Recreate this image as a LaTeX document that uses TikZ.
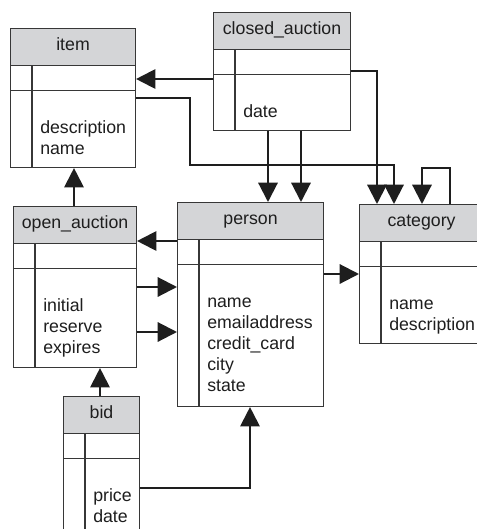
\documentclass[tikz,border=0pt]{standalone}
\usepackage{fontspec}
\setmainfont{Liberation Sans}
\usepackage{xcolor}
\usetikzlibrary{calc,arrows.meta}

\definecolor{headgray}{RGB}{212,213,215}
\definecolor{boxline}{RGB}{55,55,55}
\definecolor{inkgray}{RGB}{30,30,30}

\newcommand{\tblfont}{\fontsize{13.3}{15.8}\selectfont}

\tikzset{
  tblbox/.style={draw=boxline, line width=0.8pt, fill=white, anchor=north west, inner sep=0pt},
  tblhead/.style={draw=boxline, line width=0.8pt, fill=headgray, anchor=north west, inner sep=0pt,
    minimum height=37*0.75pt, text height=0.73em, text depth=0.22em, font=\tblfont, text=inkgray},
  tblline/.style={draw=boxline, line width=0.8pt},
  tblattr/.style={anchor=north west, align=left, inner sep=0pt, font=\tblfont, text=inkgray},
  fk/.style={draw=inkgray, line width=1.6pt, -{Triangle[length=14.5pt,width=14.5pt]}},
}

% table: name, x, y, width, height, title, attributes
\newcommand{\enttable}[7]{%
  \node[tblbox, minimum width=#4*0.75pt, minimum height=#5*0.75pt] (#1) at (#2,#3) {};
  \node[tblhead, minimum width=#4*0.75pt] (#1-head) at (#1.north west) {#6};
  \draw[tblline] ($(#1.north west)+(0,62.5)$) -- ($(#1.north east)+(0,62.5)$);
  \draw[tblline] ($(#1.north west)+(22,37)$) -- ($(#1.south west)+(22,0)$);
  \node[tblattr] (#1-attr) at ($(#1.north west)+(30,90)$) {\strut#7};
}

\begin{document}
\begin{tikzpicture}[x=0.75pt,y=0.75pt,yscale=-1,xscale=1]
\useasboundingbox (0,0) rectangle (477,529);
\fill[white] (0,0) rectangle (477,529);
\clip (0,0) rectangle (477,529);

% Tables
\enttable{item}{10}{28}{125}{139}{item}{description\\name}
\enttable{closed}{213}{12}{137}{118}{closed\_auction}{date}
\enttable{person}{177}{202}{146}{204}{person}{name\\emailaddress\\credit\_card\\city\\state}
\enttable{category}{359}{204}{124}{139}{category}{name\\description}
\enttable{open}{13}{206}{123}{161}{open\_auction}{initial\\reserve\\expires}
\enttable{bid}{63}{396}{76}{150}{bid}{price\\date}

% closed_auction references
\draw[fk] ($(closed.north west)+(0,67)$) -- ($(item.north east)+(0,51)$);
\draw[fk] ($(closed.north east)+(0,59)$) -| ($(category.north west)+(18,0)$);
\draw[fk] ($(closed.south west)+(55,0)$) -- ($(person.north west)+(91,0)$);
\draw[fk] ($(closed.south west)+(88,0)$) -- ($(person.north west)+(124,0)$);

% item -> category
\draw[fk] ($(item.north east)+(0,70)$) -- ++(54,0) |- ($(category.north west)+(35,-39)$)
  -- ($(category.north west)+(35,0)$);

% category -> category
\draw[fk] ($(category.north west)+(91,0)$) -- ++(0,-36) -| ($(category.north west)+(63,0)$);

% person / open_auction
\draw[fk] ($(person.north west)+(0,39)$) -- ($(open.north east)+(0,35)$);
\draw[fk] ($(open.north east)+(0,81)$) -- ($(person.north west)+(0,85)$);
\draw[fk] ($(open.north east)+(0,126)$) -- ($(person.north west)+(0,130)$);
\draw[fk] ($(person.north east)+(0,72)$) -- ($(category.north west)+(0,70)$);
\draw[fk] ($(open.north west)+(61,0)$) -- ($(item.south west)+(64,0)$);

% bid references
\draw[fk] ($(bid.north west)+(37,0)$) -- ($(open.south west)+(87,0)$);
\draw[fk] ($(bid.north east)+(0,92)$) -| ($(person.south west)+(73,0)$);

\end{tikzpicture}
\end{document}
